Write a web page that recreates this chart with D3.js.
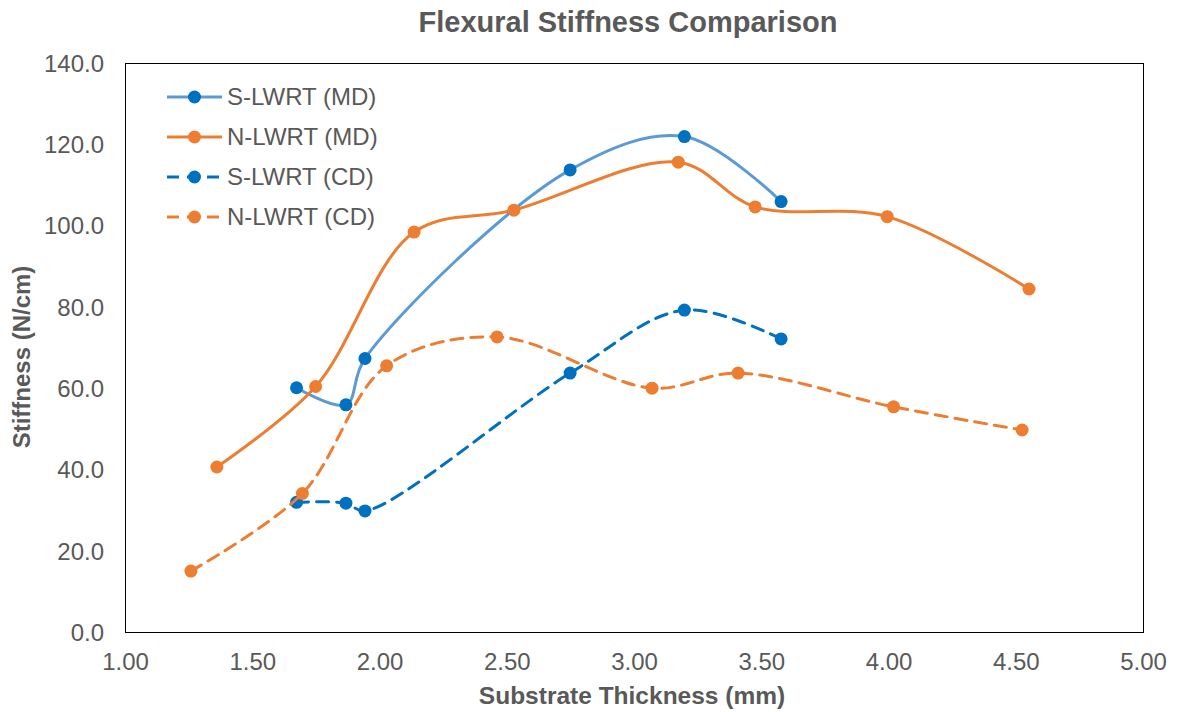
<!DOCTYPE html>
<html>
<head>
<meta charset="utf-8">
<script src="https://cdn.jsdelivr.net/npm/d3@7"></script>
<style>
  html, body { margin: 0; padding: 0; background: #fff; }
  svg { display: block; font-family: "Liberation Sans", Arial, sans-serif; }
</style>
</head>
<body>
<svg id="chart" width="1180" height="712"></svg>
<script>
// ---- Data ----
const seriesNames = ["S-LWRT (MD)", "N-LWRT (MD)", "S-LWRT (CD)", "N-LWRT (CD)"];

const sMD_x = [1.674, 1.868, 1.943, 2.749, 3.198, 3.578];
const sMD_y = [60.1, 55.9, 67.3, 113.7, 121.9, 105.9];

const nMD_x = [1.361, 1.749, 2.136, 2.528, 3.174, 3.476, 3.995, 4.552];
const nMD_y = [40.6, 60.4, 98.4, 103.8, 115.6, 104.6, 102.2, 84.4];

const sCD_x = [1.674, 1.868, 1.943, 2.749, 3.198, 3.578];
const sCD_y = [31.9, 31.7, 29.8, 63.7, 79.2, 72.1];

const nCD_x = [1.259, 1.697, 2.028, 2.462, 3.071, 3.409, 4.020, 4.525];
const nCD_y = [15.0, 34.1, 65.5, 72.6, 60.0, 63.7, 55.4, 49.7];

const xTicks = [1.00, 1.50, 2.00, 2.50, 3.00, 3.50, 4.00, 4.50, 5.00];
const yTicks = [0, 20, 40, 60, 80, 100, 120, 140];

const titleText = "Flexural Stiffness Comparison";
const xTitle = "Substrate Thickness (mm)";
const yTitle = "Stiffness (N/cm)";

// ---- Layout ----
const svg = d3.select("#chart");
const plot = { left: 125, right: 1143, top: 63, bottom: 632 };
const textColor = "#595959";

const x = d3.scaleLinear().domain([1, 5]).range([plot.left, plot.right]);
const y = d3.scaleLinear().domain([0, 140]).range([plot.bottom, plot.top]);

svg.append("rect").attr("width", 1180).attr("height", 712).attr("fill", "#fff");

// Plot border
svg.append("rect")
  .attr("x", plot.left + 0.5).attr("y", plot.top + 0.5)
  .attr("width", plot.right - plot.left).attr("height", plot.bottom - plot.top)
  .attr("fill", "none").attr("stroke", "#000").attr("stroke-width", 1);

// Axes
const yAxis = svg.append("g")
  .attr("transform", `translate(${plot.left - 21},0)`)
  .call(d3.axisLeft(y).tickValues(yTicks).tickFormat(d3.format(".1f")).tickSize(0).tickPadding(0));
yAxis.select(".domain").remove();
yAxis.selectAll("text").attr("fill", textColor).style("font-size", "24px")
  .style("font-family", "'Liberation Sans', Arial, sans-serif").attr("dy", "0.35em");

const xAxis = svg.append("g")
  .attr("transform", `translate(0,${plot.bottom})`)
  .call(d3.axisBottom(x).tickValues(xTicks).tickFormat(d3.format(".2f")).tickSize(0).tickPadding(0));
xAxis.select(".domain").remove();
xAxis.selectAll("text").attr("fill", textColor).style("font-size", "24px")
  .style("font-family", "'Liberation Sans', Arial, sans-serif")
  .attr("y", 38).attr("dy", 0);

// Titles
svg.append("text").attr("x", 628).attr("y", 32).attr("text-anchor", "middle")
  .attr("fill", textColor).style("font-size", "29px").style("font-weight", "bold")
  .text(titleText);
svg.append("text").attr("x", 632).attr("y", 704).attr("text-anchor", "middle")
  .attr("fill", textColor).style("font-size", "24.5px").style("font-weight", "bold")
  .text(xTitle);
svg.append("text").attr("transform", "translate(30,357) rotate(-90)").attr("text-anchor", "middle")
  .attr("fill", textColor).style("font-size", "24px").style("font-weight", "bold")
  .text(yTitle);

// Series
const series = [
  { name: seriesNames[0], xs: sMD_x, ys: sMD_y, line: "#5B9BD5", marker: "#0070C0", dash: null },
  { name: seriesNames[1], xs: nMD_x, ys: nMD_y, line: "#ED7D31", marker: "#ED7D31", dash: null },
  { name: seriesNames[2], xs: sCD_x, ys: sCD_y, line: "#0070C0", marker: "#0070C0", dash: "12,8" },
  { name: seriesNames[3], xs: nCD_x, ys: nCD_y, line: "#ED7D31", marker: "#ED7D31", dash: "12,8" }
];

const lineGen = d3.line()
  .x(d => x(d[0])).y(d => y(d[1]))
  .curve(d3.curveCatmullRom.alpha(0.5));

series.forEach(s => {
  const pts = s.xs.map((v, i) => [v, s.ys[i]]);
  const g = svg.append("g");
  g.append("path").datum(pts)
    .attr("d", lineGen).attr("fill", "none")
    .attr("stroke", s.line).attr("stroke-width", 3)
    .attr("stroke-linecap", "round")
    .attr("stroke-dasharray", s.dash);
  g.selectAll("circle").data(pts).join("circle")
    .attr("cx", d => x(d[0])).attr("cy", d => y(d[1]))
    .attr("r", 6.5).attr("fill", s.marker);
});

// Legend
const legend = svg.append("g");
series.forEach((s, i) => {
  const ly = 97 + i * 40;
  const g = legend.append("g").attr("transform", `translate(0,${ly})`);
  g.append("line").attr("x1", 167).attr("x2", 222).attr("y1", 0).attr("y2", 0)
    .attr("stroke", s.line).attr("stroke-width", 3).attr("stroke-dasharray", s.dash);
  g.append("circle").attr("cx", 194.5).attr("cy", 0).attr("r", 6.5).attr("fill", s.marker);
  g.append("text").attr("x", 227).attr("y", 0).attr("dy", "0.35em")
    .attr("fill", textColor).style("font-size", "24px").text(s.name);
});
</script>
</body>
</html>
